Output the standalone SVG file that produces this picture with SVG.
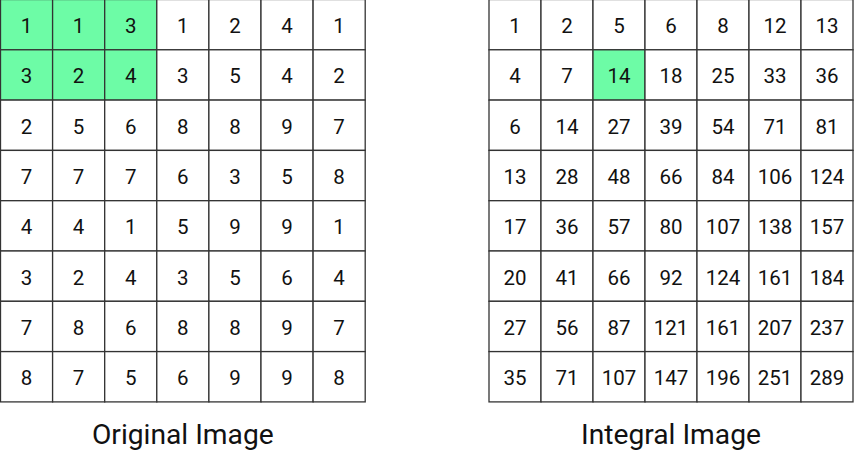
<svg xmlns="http://www.w3.org/2000/svg" width="854" height="452" viewBox="0 0 854 452">
<style>
.c{fill:#ffffff;stroke:#333333;stroke-width:1.3}
.g{fill:#6dfca6;stroke:#333333;stroke-width:1.3}
text{font-family:Roboto,"Liberation Sans",sans-serif;fill:#111111}
.t{font-size:20.5px;text-anchor:middle}
.l{font-size:28.2px;text-anchor:middle}
</style>
<rect width="854" height="452" fill="#ffffff"/>
<g id="original">
<g transform="translate(0.5,-0.5)">
<g id="o-0-0" transform="translate(0,0)"><rect class="g" width="52.1" height="50.3"/><text class="t" x="26" y="33.6">1</text></g>
<g id="o-0-1" transform="translate(52.1,0)"><rect class="g" width="52.1" height="50.3"/><text class="t" x="26" y="33.6">1</text></g>
<g id="o-0-2" transform="translate(104.2,0)"><rect class="g" width="52.1" height="50.3"/><text class="t" x="26" y="33.6">3</text></g>
<g id="o-0-3" transform="translate(156.3,0)"><rect class="c" width="52.1" height="50.3"/><text class="t" x="26" y="33.6">1</text></g>
<g id="o-0-4" transform="translate(208.4,0)"><rect class="c" width="52.1" height="50.3"/><text class="t" x="26" y="33.6">2</text></g>
<g id="o-0-5" transform="translate(260.5,0)"><rect class="c" width="52.1" height="50.3"/><text class="t" x="26" y="33.6">4</text></g>
<g id="o-0-6" transform="translate(312.6,0)"><rect class="c" width="52.1" height="50.3"/><text class="t" x="26" y="33.6">1</text></g>

<g id="o-1-0" transform="translate(0,50.3)"><rect class="g" width="52.1" height="50.3"/><text class="t" x="26" y="33.6">3</text></g>
<g id="o-1-1" transform="translate(52.1,50.3)"><rect class="g" width="52.1" height="50.3"/><text class="t" x="26" y="33.6">2</text></g>
<g id="o-1-2" transform="translate(104.2,50.3)"><rect class="g" width="52.1" height="50.3"/><text class="t" x="26" y="33.6">4</text></g>
<g id="o-1-3" transform="translate(156.3,50.3)"><rect class="c" width="52.1" height="50.3"/><text class="t" x="26" y="33.6">3</text></g>
<g id="o-1-4" transform="translate(208.4,50.3)"><rect class="c" width="52.1" height="50.3"/><text class="t" x="26" y="33.6">5</text></g>
<g id="o-1-5" transform="translate(260.5,50.3)"><rect class="c" width="52.1" height="50.3"/><text class="t" x="26" y="33.6">4</text></g>
<g id="o-1-6" transform="translate(312.6,50.3)"><rect class="c" width="52.1" height="50.3"/><text class="t" x="26" y="33.6">2</text></g>

<g id="o-2-0" transform="translate(0,100.6)"><rect class="c" width="52.1" height="50.3"/><text class="t" x="26" y="33.6">2</text></g>
<g id="o-2-1" transform="translate(52.1,100.6)"><rect class="c" width="52.1" height="50.3"/><text class="t" x="26" y="33.6">5</text></g>
<g id="o-2-2" transform="translate(104.2,100.6)"><rect class="c" width="52.1" height="50.3"/><text class="t" x="26" y="33.6">6</text></g>
<g id="o-2-3" transform="translate(156.3,100.6)"><rect class="c" width="52.1" height="50.3"/><text class="t" x="26" y="33.6">8</text></g>
<g id="o-2-4" transform="translate(208.4,100.6)"><rect class="c" width="52.1" height="50.3"/><text class="t" x="26" y="33.6">8</text></g>
<g id="o-2-5" transform="translate(260.5,100.6)"><rect class="c" width="52.1" height="50.3"/><text class="t" x="26" y="33.6">9</text></g>
<g id="o-2-6" transform="translate(312.6,100.6)"><rect class="c" width="52.1" height="50.3"/><text class="t" x="26" y="33.6">7</text></g>

<g id="o-3-0" transform="translate(0,150.9)"><rect class="c" width="52.1" height="50.3"/><text class="t" x="26" y="33.6">7</text></g>
<g id="o-3-1" transform="translate(52.1,150.9)"><rect class="c" width="52.1" height="50.3"/><text class="t" x="26" y="33.6">7</text></g>
<g id="o-3-2" transform="translate(104.2,150.9)"><rect class="c" width="52.1" height="50.3"/><text class="t" x="26" y="33.6">7</text></g>
<g id="o-3-3" transform="translate(156.3,150.9)"><rect class="c" width="52.1" height="50.3"/><text class="t" x="26" y="33.6">6</text></g>
<g id="o-3-4" transform="translate(208.4,150.9)"><rect class="c" width="52.1" height="50.3"/><text class="t" x="26" y="33.6">3</text></g>
<g id="o-3-5" transform="translate(260.5,150.9)"><rect class="c" width="52.1" height="50.3"/><text class="t" x="26" y="33.6">5</text></g>
<g id="o-3-6" transform="translate(312.6,150.9)"><rect class="c" width="52.1" height="50.3"/><text class="t" x="26" y="33.6">8</text></g>

<g id="o-4-0" transform="translate(0,201.2)"><rect class="c" width="52.1" height="50.3"/><text class="t" x="26" y="33.6">4</text></g>
<g id="o-4-1" transform="translate(52.1,201.2)"><rect class="c" width="52.1" height="50.3"/><text class="t" x="26" y="33.6">4</text></g>
<g id="o-4-2" transform="translate(104.2,201.2)"><rect class="c" width="52.1" height="50.3"/><text class="t" x="26" y="33.6">1</text></g>
<g id="o-4-3" transform="translate(156.3,201.2)"><rect class="c" width="52.1" height="50.3"/><text class="t" x="26" y="33.6">5</text></g>
<g id="o-4-4" transform="translate(208.4,201.2)"><rect class="c" width="52.1" height="50.3"/><text class="t" x="26" y="33.6">9</text></g>
<g id="o-4-5" transform="translate(260.5,201.2)"><rect class="c" width="52.1" height="50.3"/><text class="t" x="26" y="33.6">9</text></g>
<g id="o-4-6" transform="translate(312.6,201.2)"><rect class="c" width="52.1" height="50.3"/><text class="t" x="26" y="33.6">1</text></g>

<g id="o-5-0" transform="translate(0,251.5)"><rect class="c" width="52.1" height="50.3"/><text class="t" x="26" y="33.6">3</text></g>
<g id="o-5-1" transform="translate(52.1,251.5)"><rect class="c" width="52.1" height="50.3"/><text class="t" x="26" y="33.6">2</text></g>
<g id="o-5-2" transform="translate(104.2,251.5)"><rect class="c" width="52.1" height="50.3"/><text class="t" x="26" y="33.6">4</text></g>
<g id="o-5-3" transform="translate(156.3,251.5)"><rect class="c" width="52.1" height="50.3"/><text class="t" x="26" y="33.6">3</text></g>
<g id="o-5-4" transform="translate(208.4,251.5)"><rect class="c" width="52.1" height="50.3"/><text class="t" x="26" y="33.6">5</text></g>
<g id="o-5-5" transform="translate(260.5,251.5)"><rect class="c" width="52.1" height="50.3"/><text class="t" x="26" y="33.6">6</text></g>
<g id="o-5-6" transform="translate(312.6,251.5)"><rect class="c" width="52.1" height="50.3"/><text class="t" x="26" y="33.6">4</text></g>

<g id="o-6-0" transform="translate(0,301.8)"><rect class="c" width="52.1" height="50.3"/><text class="t" x="26" y="33.6">7</text></g>
<g id="o-6-1" transform="translate(52.1,301.8)"><rect class="c" width="52.1" height="50.3"/><text class="t" x="26" y="33.6">8</text></g>
<g id="o-6-2" transform="translate(104.2,301.8)"><rect class="c" width="52.1" height="50.3"/><text class="t" x="26" y="33.6">6</text></g>
<g id="o-6-3" transform="translate(156.3,301.8)"><rect class="c" width="52.1" height="50.3"/><text class="t" x="26" y="33.6">8</text></g>
<g id="o-6-4" transform="translate(208.4,301.8)"><rect class="c" width="52.1" height="50.3"/><text class="t" x="26" y="33.6">8</text></g>
<g id="o-6-5" transform="translate(260.5,301.8)"><rect class="c" width="52.1" height="50.3"/><text class="t" x="26" y="33.6">9</text></g>
<g id="o-6-6" transform="translate(312.6,301.8)"><rect class="c" width="52.1" height="50.3"/><text class="t" x="26" y="33.6">7</text></g>

<g id="o-7-0" transform="translate(0,352.1)"><rect class="c" width="52.1" height="50.3"/><text class="t" x="26" y="33.6">8</text></g>
<g id="o-7-1" transform="translate(52.1,352.1)"><rect class="c" width="52.1" height="50.3"/><text class="t" x="26" y="33.6">7</text></g>
<g id="o-7-2" transform="translate(104.2,352.1)"><rect class="c" width="52.1" height="50.3"/><text class="t" x="26" y="33.6">5</text></g>
<g id="o-7-3" transform="translate(156.3,352.1)"><rect class="c" width="52.1" height="50.3"/><text class="t" x="26" y="33.6">6</text></g>
<g id="o-7-4" transform="translate(208.4,352.1)"><rect class="c" width="52.1" height="50.3"/><text class="t" x="26" y="33.6">9</text></g>
<g id="o-7-5" transform="translate(260.5,352.1)"><rect class="c" width="52.1" height="50.3"/><text class="t" x="26" y="33.6">9</text></g>
<g id="o-7-6" transform="translate(312.6,352.1)"><rect class="c" width="52.1" height="50.3"/><text class="t" x="26" y="33.6">8</text></g>
</g>
<text id="label-original" class="l" x="182.8" y="444.3">Original Image</text>
</g>

<g id="integral">
<g transform="translate(489,-0.5)">
<g id="i-0-0" transform="translate(0,0)"><rect class="c" width="52" height="50.3"/><text class="t" x="26" y="33.6">1</text></g>
<g id="i-0-1" transform="translate(52,0)"><rect class="c" width="52" height="50.3"/><text class="t" x="26" y="33.6">2</text></g>
<g id="i-0-2" transform="translate(104,0)"><rect class="c" width="52" height="50.3"/><text class="t" x="26" y="33.6">5</text></g>
<g id="i-0-3" transform="translate(156,0)"><rect class="c" width="52" height="50.3"/><text class="t" x="26" y="33.6">6</text></g>
<g id="i-0-4" transform="translate(208,0)"><rect class="c" width="52" height="50.3"/><text class="t" x="26" y="33.6">8</text></g>
<g id="i-0-5" transform="translate(260,0)"><rect class="c" width="52" height="50.3"/><text class="t" x="26" y="33.6">12</text></g>
<g id="i-0-6" transform="translate(312,0)"><rect class="c" width="52" height="50.3"/><text class="t" x="26" y="33.6">13</text></g>

<g id="i-1-0" transform="translate(0,50.3)"><rect class="c" width="52" height="50.3"/><text class="t" x="26" y="33.6">4</text></g>
<g id="i-1-1" transform="translate(52,50.3)"><rect class="c" width="52" height="50.3"/><text class="t" x="26" y="33.6">7</text></g>
<g id="i-1-2" transform="translate(104,50.3)"><rect class="g" width="52" height="50.3"/><text class="t" x="26" y="33.6">14</text></g>
<g id="i-1-3" transform="translate(156,50.3)"><rect class="c" width="52" height="50.3"/><text class="t" x="26" y="33.6">18</text></g>
<g id="i-1-4" transform="translate(208,50.3)"><rect class="c" width="52" height="50.3"/><text class="t" x="26" y="33.6">25</text></g>
<g id="i-1-5" transform="translate(260,50.3)"><rect class="c" width="52" height="50.3"/><text class="t" x="26" y="33.6">33</text></g>
<g id="i-1-6" transform="translate(312,50.3)"><rect class="c" width="52" height="50.3"/><text class="t" x="26" y="33.6">36</text></g>

<g id="i-2-0" transform="translate(0,100.6)"><rect class="c" width="52" height="50.3"/><text class="t" x="26" y="33.6">6</text></g>
<g id="i-2-1" transform="translate(52,100.6)"><rect class="c" width="52" height="50.3"/><text class="t" x="26" y="33.6">14</text></g>
<g id="i-2-2" transform="translate(104,100.6)"><rect class="c" width="52" height="50.3"/><text class="t" x="26" y="33.6">27</text></g>
<g id="i-2-3" transform="translate(156,100.6)"><rect class="c" width="52" height="50.3"/><text class="t" x="26" y="33.6">39</text></g>
<g id="i-2-4" transform="translate(208,100.6)"><rect class="c" width="52" height="50.3"/><text class="t" x="26" y="33.6">54</text></g>
<g id="i-2-5" transform="translate(260,100.6)"><rect class="c" width="52" height="50.3"/><text class="t" x="26" y="33.6">71</text></g>
<g id="i-2-6" transform="translate(312,100.6)"><rect class="c" width="52" height="50.3"/><text class="t" x="26" y="33.6">81</text></g>

<g id="i-3-0" transform="translate(0,150.9)"><rect class="c" width="52" height="50.3"/><text class="t" x="26" y="33.6">13</text></g>
<g id="i-3-1" transform="translate(52,150.9)"><rect class="c" width="52" height="50.3"/><text class="t" x="26" y="33.6">28</text></g>
<g id="i-3-2" transform="translate(104,150.9)"><rect class="c" width="52" height="50.3"/><text class="t" x="26" y="33.6">48</text></g>
<g id="i-3-3" transform="translate(156,150.9)"><rect class="c" width="52" height="50.3"/><text class="t" x="26" y="33.6">66</text></g>
<g id="i-3-4" transform="translate(208,150.9)"><rect class="c" width="52" height="50.3"/><text class="t" x="26" y="33.6">84</text></g>
<g id="i-3-5" transform="translate(260,150.9)"><rect class="c" width="52" height="50.3"/><text class="t" x="26" y="33.6">106</text></g>
<g id="i-3-6" transform="translate(312,150.9)"><rect class="c" width="52" height="50.3"/><text class="t" x="26" y="33.6">124</text></g>

<g id="i-4-0" transform="translate(0,201.2)"><rect class="c" width="52" height="50.3"/><text class="t" x="26" y="33.6">17</text></g>
<g id="i-4-1" transform="translate(52,201.2)"><rect class="c" width="52" height="50.3"/><text class="t" x="26" y="33.6">36</text></g>
<g id="i-4-2" transform="translate(104,201.2)"><rect class="c" width="52" height="50.3"/><text class="t" x="26" y="33.6">57</text></g>
<g id="i-4-3" transform="translate(156,201.2)"><rect class="c" width="52" height="50.3"/><text class="t" x="26" y="33.6">80</text></g>
<g id="i-4-4" transform="translate(208,201.2)"><rect class="c" width="52" height="50.3"/><text class="t" x="26" y="33.6">107</text></g>
<g id="i-4-5" transform="translate(260,201.2)"><rect class="c" width="52" height="50.3"/><text class="t" x="26" y="33.6">138</text></g>
<g id="i-4-6" transform="translate(312,201.2)"><rect class="c" width="52" height="50.3"/><text class="t" x="26" y="33.6">157</text></g>

<g id="i-5-0" transform="translate(0,251.5)"><rect class="c" width="52" height="50.3"/><text class="t" x="26" y="33.6">20</text></g>
<g id="i-5-1" transform="translate(52,251.5)"><rect class="c" width="52" height="50.3"/><text class="t" x="26" y="33.6">41</text></g>
<g id="i-5-2" transform="translate(104,251.5)"><rect class="c" width="52" height="50.3"/><text class="t" x="26" y="33.6">66</text></g>
<g id="i-5-3" transform="translate(156,251.5)"><rect class="c" width="52" height="50.3"/><text class="t" x="26" y="33.6">92</text></g>
<g id="i-5-4" transform="translate(208,251.5)"><rect class="c" width="52" height="50.3"/><text class="t" x="26" y="33.6">124</text></g>
<g id="i-5-5" transform="translate(260,251.5)"><rect class="c" width="52" height="50.3"/><text class="t" x="26" y="33.6">161</text></g>
<g id="i-5-6" transform="translate(312,251.5)"><rect class="c" width="52" height="50.3"/><text class="t" x="26" y="33.6">184</text></g>

<g id="i-6-0" transform="translate(0,301.8)"><rect class="c" width="52" height="50.3"/><text class="t" x="26" y="33.6">27</text></g>
<g id="i-6-1" transform="translate(52,301.8)"><rect class="c" width="52" height="50.3"/><text class="t" x="26" y="33.6">56</text></g>
<g id="i-6-2" transform="translate(104,301.8)"><rect class="c" width="52" height="50.3"/><text class="t" x="26" y="33.6">87</text></g>
<g id="i-6-3" transform="translate(156,301.8)"><rect class="c" width="52" height="50.3"/><text class="t" x="26" y="33.6">121</text></g>
<g id="i-6-4" transform="translate(208,301.8)"><rect class="c" width="52" height="50.3"/><text class="t" x="26" y="33.6">161</text></g>
<g id="i-6-5" transform="translate(260,301.8)"><rect class="c" width="52" height="50.3"/><text class="t" x="26" y="33.6">207</text></g>
<g id="i-6-6" transform="translate(312,301.8)"><rect class="c" width="52" height="50.3"/><text class="t" x="26" y="33.6">237</text></g>

<g id="i-7-0" transform="translate(0,352.1)"><rect class="c" width="52" height="50.3"/><text class="t" x="26" y="33.6">35</text></g>
<g id="i-7-1" transform="translate(52,352.1)"><rect class="c" width="52" height="50.3"/><text class="t" x="26" y="33.6">71</text></g>
<g id="i-7-2" transform="translate(104,352.1)"><rect class="c" width="52" height="50.3"/><text class="t" x="26" y="33.6">107</text></g>
<g id="i-7-3" transform="translate(156,352.1)"><rect class="c" width="52" height="50.3"/><text class="t" x="26" y="33.6">147</text></g>
<g id="i-7-4" transform="translate(208,352.1)"><rect class="c" width="52" height="50.3"/><text class="t" x="26" y="33.6">196</text></g>
<g id="i-7-5" transform="translate(260,352.1)"><rect class="c" width="52" height="50.3"/><text class="t" x="26" y="33.6">251</text></g>
<g id="i-7-6" transform="translate(312,352.1)"><rect class="c" width="52" height="50.3"/><text class="t" x="26" y="33.6">289</text></g>
</g>
<text id="label-integral" class="l" x="671" y="444.3">Integral Image</text>
</g>
<g id="connectors"/>
</svg>
